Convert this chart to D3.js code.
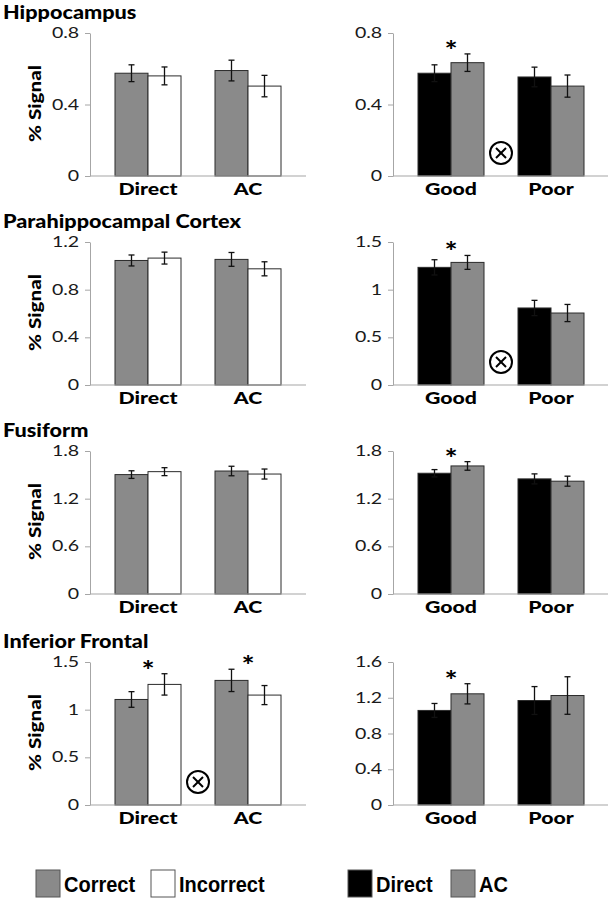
<!DOCTYPE html>
<html>
<head>
<meta charset="utf-8">
<script src="https://cdn.jsdelivr.net/npm/d3@7"></script>
<style>
  html, body { margin: 0; padding: 0; background: #ffffff; }
  svg { display: block; }
</style>
</head>
<body>
<svg id="chart" width="610" height="900"></svg>
<script>
// ---------------- DATA ----------------
const regions = ["Hippocampus", "Parahippocampal Cortex", "Fusiform", "Inferior Frontal"];
const accCategories = ["Direct", "AC"];
const accSeries = ["Correct", "Incorrect"];
const memCategories = ["Good", "Poor"];
const memSeries = ["Direct", "AC"];

// values[category][series]
const hippoAcc    = [[0.575, 0.560], [0.590, 0.503]];
const hippoAccErr = [[0.047, 0.050], [0.058, 0.060]];
const hippoMem    = [[0.575, 0.634], [0.554, 0.503]];
const hippoMemErr = [[0.047, 0.049], [0.055, 0.062]];

const phcAcc    = [[1.045, 1.065], [1.054, 0.975]];
const phcAccErr = [[0.046, 0.050], [0.058, 0.059]];
const phcMem    = [[1.234, 1.286], [0.808, 0.755]];
const phcMemErr = [[0.080, 0.073], [0.080, 0.090]];

const fusAcc    = [[1.503, 1.540], [1.548, 1.510]];
const fusAccErr = [[0.048, 0.050], [0.060, 0.063]];
const fusMem    = [[1.520, 1.612], [1.449, 1.420]];
const fusMemErr = [[0.046, 0.054], [0.063, 0.063]];

const ifAcc    = [[1.107, 1.265], [1.307, 1.153]];
const ifAccErr = [[0.082, 0.112], [0.117, 0.100]];
const ifMem    = [[1.058, 1.244], [1.169, 1.225]];
const ifMemErr = [[0.078, 0.113], [0.156, 0.210]];

const hippoAccTicks = [0, 0.4, 0.8];
const hippoMemTicks = [0, 0.4, 0.8];
const phcAccTicks = [0, 0.4, 0.8, 1.2];
const phcMemTicks = [0, 0.5, 1, 1.5];
const fusAccTicks = [0, 0.6, 1.2, 1.8];
const fusMemTicks = [0, 0.6, 1.2, 1.8];
const ifAccTicks = [0, 0.5, 1, 1.5];
const ifMemTicks = [0, 0.4, 0.8, 1.2, 1.6];

// significance markers
const accStars = [[], [], [], ["Direct", "AC"]];
const memStars = [["Good"], ["Good"], ["Good"], ["Good"]];
const accInteraction = [false, false, false, true];
const memInteraction = [true, true, false, false];

const accColors = ["#8a8a8a", "#ffffff"];
const memColors = ["#000000", "#8a8a8a"];

const yLabel = "% Signal";

// ---------------- LAYOUT ----------------
const panelTops = [33, 242, 451, 662];
const plotH = 143;
const leftLayout  = { axisX: 90,  bandStart: 98,  bandEnd: 298, lineEnd: 306 };
const rightLayout = { axisX: 393, bandStart: 401, bandEnd: 601, lineEnd: 608 };
const axisGray = "#a6a6a6";
const labelFont = "Lato, 'Open Sans', sans-serif";
const stretch = 1.25;

const svg = d3.select("#chart");

const accData = [hippoAcc, phcAcc, fusAcc, ifAcc];
const accErr = [hippoAccErr, phcAccErr, fusAccErr, ifAccErr];
const memData = [hippoMem, phcMem, fusMem, ifMem];
const memErr = [hippoMemErr, phcMemErr, fusMemErr, ifMemErr];
const accTicks = [hippoAccTicks, phcAccTicks, fusAccTicks, ifAccTicks];
const memTicks = [hippoMemTicks, phcMemTicks, fusMemTicks, ifMemTicks];

function drawPanel(top, layout, cats, series, values, errs, ticks, colors, stars, interaction, showYLabel) {
  const g = svg.append("g");
  const y = d3.scaleLinear().domain([0, d3.max(ticks)]).range([top + plotH, top]);
  const x0 = d3.scaleBand().domain(cats).range([layout.bandStart, layout.bandEnd])
    .paddingInner(0.34).paddingOuter(0.17);
  const x1 = d3.scaleBand().domain(series).range([0, x0.bandwidth()]);

  // y axis
  const yAxis = g.append("g")
    .attr("transform", `translate(${layout.axisX},0)`)
    .call(d3.axisLeft(y).tickValues(ticks).tickSize(5).tickSizeOuter(0).tickPadding(3)
      .tickFormat(d => String(d)));
  yAxis.select(".domain").attr("stroke", axisGray).attr("stroke-width", 1);
  yAxis.selectAll(".tick line").attr("stroke", axisGray);
  yAxis.selectAll(".tick text")
    .attr("font-family", labelFont).attr("font-size", 14.5).attr("fill", "#1a1a1a")
    .attr("transform", `scale(${stretch + 0.1},1)`);

  // bars
  cats.forEach((c, ci) => {
    series.forEach((s, si) => {
      const v = values[ci][si];
      const e = errs[ci][si];
      const bx = x0(c) + x1(s);
      g.append("rect")
        .attr("x", bx).attr("y", y(v))
        .attr("width", x1.bandwidth()).attr("height", y(0) - y(v))
        .attr("fill", colors[si]).attr("stroke", "#2b2b2b").attr("stroke-width", 1);
      const cx = bx + x1.bandwidth() / 2;
      const eb = g.append("g").attr("stroke", "#111").attr("stroke-width", 1.3);
      eb.append("line").attr("x1", cx).attr("x2", cx).attr("y1", y(v + e)).attr("y2", y(v - e));
      eb.append("line").attr("x1", cx - 3).attr("x2", cx + 3).attr("y1", y(v + e)).attr("y2", y(v + e));
      eb.append("line").attr("x1", cx - 3).attr("x2", cx + 3).attr("y1", y(v - e)).attr("y2", y(v - e));
    });
  });

  // baseline
  g.append("line")
    .attr("x1", layout.axisX).attr("x2", layout.lineEnd)
    .attr("y1", y(0)).attr("y2", y(0))
    .attr("stroke", axisGray).attr("stroke-width", 1.2);

  // category labels
  const xAxis = g.append("g")
    .attr("transform", `translate(0,${y(0)})`)
    .call(d3.axisBottom(x0).tickSize(0).tickPadding(7));
  xAxis.select(".domain").remove();
  xAxis.selectAll(".tick text")
    .attr("font-family", labelFont).attr("font-weight", "900")
    .attr("font-size", 17).attr("fill", "#000")
    .attr("transform", `scale(${stretch},1)`);

  // stars
  stars.forEach(c => {
    const ci = cats.indexOf(c);
    const topVal = d3.max(series.map((s, si) => values[ci][si] + errs[ci][si]));
    g.append("text")
      .attr("transform", `translate(${x0(c) + x0.bandwidth() / 2},${y(topVal) + 6}) scale(1.15,1)`)
      .attr("text-anchor", "middle")
      .attr("font-family", labelFont).attr("font-weight", "bold")
      .attr("font-size", 27).attr("fill", "#000")
      .text("*");
  });

  // interaction symbol
  if (interaction) {
    const cx = (x0(cats[0]) + x0.bandwidth() + x0(cats[1])) / 2;
    const cy = y(0) - 23;
    const r = 11;
    const k = 5;
    const sg = g.append("g").attr("stroke", "#000").attr("stroke-width", 2).attr("fill", "none");
    sg.append("circle").attr("cx", cx).attr("cy", cy).attr("r", r).attr("fill", "#fff");
    sg.append("line").attr("x1", cx - k).attr("y1", cy - k).attr("x2", cx + k).attr("y2", cy + k);
    sg.append("line").attr("x1", cx - k).attr("y1", cy + k).attr("x2", cx + k).attr("y2", cy - k);
  }

  if (showYLabel) {
    g.append("text")
      .attr("transform", `translate(41,${top + plotH / 2 - 1}) rotate(-90) scale(${stretch},1)`)
      .attr("text-anchor", "middle")
      .attr("font-family", labelFont).attr("font-weight", "900")
      .attr("font-size", 16.5).attr("fill", "#000")
      .text(yLabel);
  }
}

regions.forEach((name, i) => {
  const top = panelTops[i];
  svg.append("text")
    .attr("transform", `translate(3,${top - 14.5}) scale(1.17,1)`)
    .attr("font-family", labelFont).attr("font-weight", "900")
    .attr("font-size", 18.5).attr("fill", "#000")
    .text(name);
  drawPanel(top, leftLayout, accCategories, accSeries, accData[i], accErr[i], accTicks[i],
    accColors, accStars[i], accInteraction[i], true);
  drawPanel(top, rightLayout, memCategories, memSeries, memData[i], memErr[i], memTicks[i],
    memColors, memStars[i], memInteraction[i], false);
});

// ---------------- LEGEND ----------------
const legendItems = [
  { label: accSeries[0], color: accColors[0], x: 36 },
  { label: accSeries[1], color: accColors[1], x: 151 },
  { label: memSeries[0], color: memColors[0], x: 348 },
  { label: memSeries[1], color: memColors[1], x: 451 }
];
const lg = svg.append("g");
legendItems.forEach(it => {
  lg.append("rect")
    .attr("x", it.x).attr("y", 870).attr("width", 24).attr("height", 27)
    .attr("fill", it.color).attr("stroke", "#555").attr("stroke-width", 1);
  lg.append("text")
    .attr("transform", `translate(${it.x + 28},892) scale(0.91,1)`)
    .attr("font-family", "'Liberation Sans', Arial, sans-serif")
    .attr("font-weight", "bold")
    .attr("font-size", 22).attr("fill", "#000")
    .text(it.label);
});
</script>
</body>
</html>
